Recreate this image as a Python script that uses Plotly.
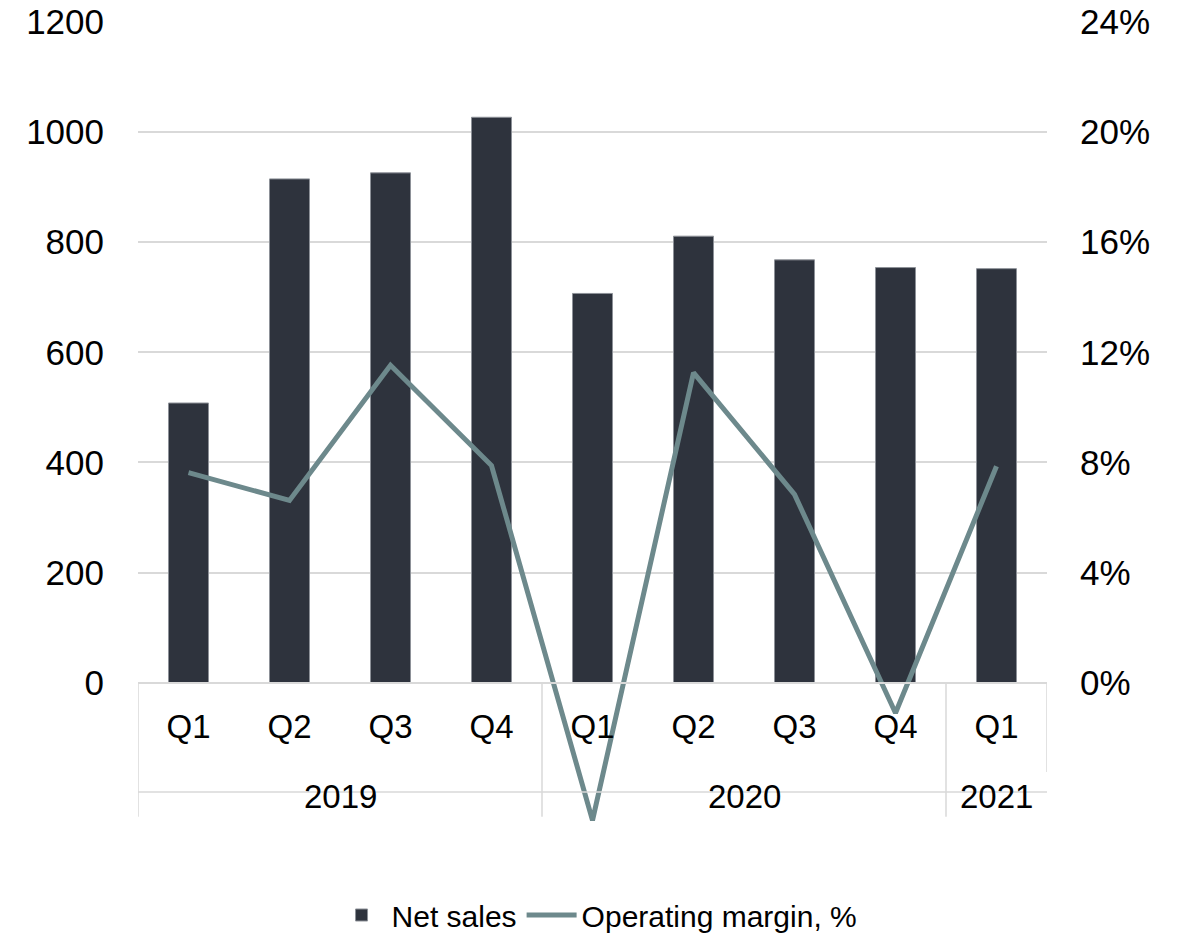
import plotly.graph_objects as go

# ---- data ----
years = ["2019", "2019", "2019", "2019", "2020", "2020", "2020", "2020", "2021"]
quarters = ["Q1", "Q2", "Q3", "Q4", "Q1", "Q2", "Q3", "Q4", "Q1"]
net_sales = [508, 915, 926, 1027, 707, 811, 768, 754, 752]
operating_margin = [0.0763, 0.0662, 0.1153, 0.0789, -0.0500, 0.1126, 0.0684, -0.0110, 0.0786]
left_ticks = [0, 200, 400, 600, 800, 1000, 1200]
right_ticks = [0, 0.04, 0.08, 0.12, 0.16, 0.20, 0.24]

categories = [f"{y} {q}" for y, q in zip(years, quarters)]

# ---- layout geometry ----
W, H = 1178, 936
ML, MR, MT, MB = 138, 131, 22, 0
plot_h = H - MT - MB
px_top_to_zero = 660.7          # pixels from 1200 to 0
zero_px = MT + px_top_to_zero
units_per_px = 1200 / px_top_to_zero
below_px = plot_h - px_top_to_zero
y_min = -below_px * units_per_px
y2_min = y_min / 1200 * 0.24
zero_pos = below_px / plot_h


def y_at(px):
    return -(px - zero_px) * units_per_px


FONT = "Liberation Sans, Arial, Helvetica, sans-serif"
GRID = "#d9d9d9"

fig = go.Figure()
fig.add_trace(go.Bar(
    x=categories, y=net_sales, name="Net sales",
    marker=dict(color="#2e333d", line=dict(color="#8d9198", width=1)),
    yaxis="y",
))
fig.add_trace(go.Scatter(
    x=categories, y=operating_margin, name="Operating margin, %",
    mode="lines", line=dict(color="#6d898c", width=5),
    yaxis="y2",
))

# group boundaries and year labels
shapes = []
annotations = []
groups = []
for i, y in enumerate(years):
    if not groups or groups[-1][0] != y:
        groups.append([y, i, i])
    else:
        groups[-1][2] = i
n = len(categories)
for g, (y, a, b) in enumerate(groups):
    annotations.append(dict(x=(a + b) / 2, y=y_at(796), xref="x", yref="y",
                            text=y, showarrow=False, yanchor="middle",
                            font=dict(size=33, family=FONT, color="#000")))
    shapes.append(dict(type="line", xref="x", yref="y", x0=a - 0.5, x1=a - 0.5,
                       y0=0, y1=y_at(816.7), line=dict(color=GRID, width=1.5)))
shapes.append(dict(type="line", xref="x", yref="y", x0=n - 0.5, x1=n - 0.5,
                   y0=0, y1=y_at(772), line=dict(color=GRID, width=1.5)))
shapes.append(dict(type="line", xref="x", yref="y", x0=-0.5, x1=n - 0.5,
                   y0=y_at(792), y1=y_at(792), line=dict(color=GRID, width=1.5)))

fig.update_layout(
    width=W, height=H,
    margin=dict(l=ML, r=MR, t=MT, b=MB, pad=0, autoexpand=False),
    paper_bgcolor="white", plot_bgcolor="white",
    font=dict(family=FONT, size=33, color="#000000"),
    bargap=0.604,
    showlegend=True,
    legend=dict(orientation="h", x=0.505, xanchor="center",
                y=(H - 915) / plot_h, yanchor="middle",
                font=dict(size=30), traceorder="normal", bgcolor="rgba(0,0,0,0)",
                itemwidth=50),
    xaxis=dict(
        type="category", anchor="free", position=zero_pos,
        range=[-0.5, n - 0.5],
        tickvals=categories, ticktext=quarters,
        showline=True, linecolor=GRID, linewidth=1.5,
        showgrid=False, ticks="", automargin=False,
        ticklabelstandoff=15, tickfont=dict(size=33),
    ),
    yaxis=dict(
        range=[y_min, 1200], tickvals=left_ticks, showgrid=True,
        gridcolor=GRID, gridwidth=1.5, zeroline=False, showline=False,
        ticks="", ticklabelstandoff=33, tickfont=dict(size=35), automargin=False,
    ),
    yaxis2=dict(
        range=[y2_min, 0.24], tickvals=right_ticks, tickformat=".0%",
        overlaying="y", side="right", showgrid=False, zeroline=False,
        showline=False, ticks="", ticklabelstandoff=32, tickfont=dict(size=35),
        automargin=False,
    ),
    shapes=shapes,
    annotations=annotations,
)

fig.write_html("out.html")
